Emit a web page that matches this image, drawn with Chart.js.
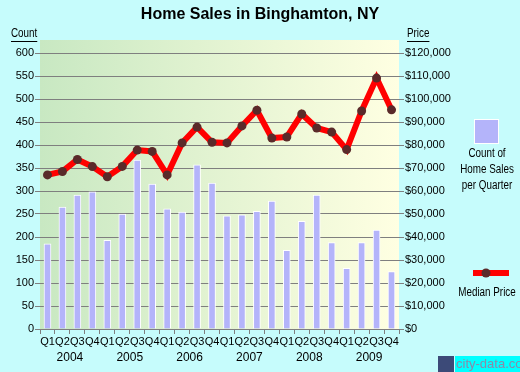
<!DOCTYPE html>
<html>
<head>
<meta charset="utf-8">
<script src="https://cdn.jsdelivr.net/npm/chart.js@4/dist/chart.umd.min.js"></script>
<style>
  html, body { margin: 0; padding: 0; background: #c6fcfc; }
  #wrap { width: 520px; height: 372px; }
</style>
</head>
<body>
<div id="wrap"><canvas id="chartSales" width="520" height="372"></canvas></div>
<script>
const quarters = [
    "Q1", "Q2", "Q3", "Q4", "Q1", "Q2", "Q3", "Q4",
    "Q1", "Q2", "Q3", "Q4", "Q1", "Q2", "Q3", "Q4",
    "Q1", "Q2", "Q3", "Q4", "Q1", "Q2", "Q3", "Q4",
];
const years = ["2004", "2005", "2006", "2007", "2008", "2009"];
const salesCount = [
    185, 265, 291, 298, 193, 250, 367, 315,
    261, 254, 357, 317, 246, 248, 256, 278,
    171, 234, 291, 188, 132, 188, 215, 125,
];
const medianPrice = [
    67000, 68500, 73700, 70600, 66200, 70700, 77800, 77200,
    67000, 80900, 87800, 81200, 80900, 88300, 95100, 83000,
    83500, 93500, 87400, 85600, 78000, 94800, 109100, 95300,
];
const countTicks = [0, 50, 100, 150, 200, 250, 300, 350, 400, 450, 500, 550, 600];
const priceTicks = [0, 10000, 20000, 30000, 40000, 50000, 60000, 70000, 80000, 90000, 100000, 110000, 120000];

const FONT = "'Liberation Sans', Arial, sans-serif";
const BAR_COLOR = "#b4b4fa";
const LINE_COLOR = "#ff0000";
const DOT_COLOR = "#5a2a2a";
const GRID_COLOR = "#7f7f7f";

// no narrow font installed, so squeeze the regular one
function narrowText(ctx, text, x, y, align) {
    ctx.save();
    ctx.font = "12px " + FONT;
    ctx.textAlign = align;
    ctx.translate(x, y);
    ctx.scale(0.82, 1);
    ctx.fillText(text, 0, 0);
    let w = ctx.measureText(text).width * 0.82;
    ctx.restore();
    return w;
}

const decorations = {
    id: "decorations",
    beforeDraw(chart) {
        const { ctx, chartArea } = chart;
        ctx.save();
        ctx.fillStyle = "#c6fcfc";
        ctx.fillRect(0, 0, chart.width, chart.height);
        let grad = ctx.createLinearGradient(chartArea.left, 0, chartArea.right, 0);
        grad.addColorStop(0, "#c8e8c2");
        grad.addColorStop(1, "#ffffe2");
        ctx.fillStyle = grad;
        ctx.fillRect(chartArea.left, chartArea.top - 13, chartArea.right - chartArea.left, chartArea.bottom - chartArea.top + 13);
        ctx.restore();
    },
    afterDraw(chart) {
        const { ctx } = chart;
        const x = chart.scales.x;
        ctx.save();
        ctx.fillStyle = "#000";
        ctx.textBaseline = "middle";

        // title
        ctx.font = "bold 16px " + FONT;
        ctx.textAlign = "center";
        ctx.fillText("Home Sales in Binghamton, NY", 260, 15);

        // axis captions
        let w1 = narrowText(ctx, "Count", 11, 34, "left");
        let w2 = narrowText(ctx, "Price", 407, 34, "left");
        ctx.fillRect(11, 41, w1, 1);
        ctx.fillRect(407, 41, w2, 1);

        // years under quarters
        ctx.font = "12px " + FONT;
        ctx.textAlign = "center";
        years.forEach((yr, i) => {
            let cx = (x.getPixelForValue(i * 4 + 1) + x.getPixelForValue(i * 4 + 2)) / 2;
            ctx.fillText(yr, cx, 358);
        });

        // legend: bars
        ctx.fillStyle = BAR_COLOR;
        ctx.fillRect(474, 119, 25, 25);
        ctx.strokeStyle = "#ffffff";
        ctx.lineWidth = 1;
        ctx.strokeRect(474.5, 119.5, 24, 24);
        ctx.fillStyle = "#000";
        narrowText(ctx, "Count of", 487, 154, "center");
        narrowText(ctx, "Home Sales", 487, 170, "center");
        narrowText(ctx, "per Quarter", 487, 186, "center");

        // legend: line
        ctx.fillStyle = LINE_COLOR;
        ctx.fillRect(473, 270, 36, 6);
        ctx.fillStyle = DOT_COLOR;
        ctx.beginPath();
        ctx.arc(486, 273, 4.5, 0, Math.PI * 2);
        ctx.fill();
        ctx.fillStyle = "#000";
        narrowText(ctx, "Median Price", 487, 293, "center");

        // watermark
        ctx.fillStyle = "#00ffff";
        ctx.fillRect(455, 356, 65, 16);
        ctx.fillStyle = "#3c4a78";
        ctx.fillRect(438, 356, 16, 16);
        ctx.fillStyle = "#8a8aa8";
        ctx.font = "13px " + FONT;
        ctx.textAlign = "left";
        ctx.fillText("city-data.com", 456, 364);
        ctx.restore();
    },
};

let chartContainer = document.getElementById("chartSales");
let chart = new Chart(chartContainer, {
    type: "bar",
    data: {
        labels: quarters,
        datasets: [
            {
                type: "line",
                label: "Median Price",
                data: medianPrice,
                yAxisID: "y1",
                borderColor: LINE_COLOR,
                borderWidth: 6,
                pointRadius: 4.5,
                pointBackgroundColor: DOT_COLOR,
                pointBorderWidth: 0,
                tension: 0,
                order: 0,
            },
            {
                label: "Count of Home Sales per Quarter",
                data: salesCount,
                yAxisID: "y",
                backgroundColor: BAR_COLOR,
                borderColor: "#ffffff",
                borderWidth: 1,
                barThickness: 7,
                order: 1,
            },
        ],
    },
    options: {
        responsive: false,
        animation: false,
        layout: { padding: { top: 53, left: 0, right: 0, bottom: 0 } },
        plugins: {
            legend: { display: false },
            tooltip: { enabled: false },
        },
        scales: {
            x: {
                afterFit(scale) { scale.height = 43; },
                border: { display: false },
                grid: {
                    offset: true,
                    drawOnChartArea: false,
                    color: GRID_COLOR,
                    tickLength: 5,
                },
                ticks: {
                    autoSkip: false,
                    maxRotation: 0,
                    padding: 1,
                    color: "#000",
                    font: { family: FONT, size: 11 },
                },
            },
            y: {
                position: "left",
                min: 0,
                max: 600,
                afterFit(scale) { scale.width = 40; },
                afterBuildTicks(scale) { scale.ticks = countTicks.map((v) => ({ value: v })); },
                border: { display: false },
                grid: { color: GRID_COLOR, tickLength: 5 },
                ticks: {
                    padding: 1,
                    color: "#000",
                    font: { family: FONT, size: 11 },
                },
            },
            y1: {
                position: "right",
                min: 0,
                max: 120000,
                afterFit(scale) { scale.width = 121; },
                afterBuildTicks(scale) { scale.ticks = priceTicks.map((v) => ({ value: v })); },
                border: { display: false },
                grid: { drawOnChartArea: false, color: GRID_COLOR, tickLength: 5 },
                ticks: {
                    padding: 1,
                    color: "#000",
                    font: { family: FONT, size: 11 },
                    callback: (v) => "$" + v.toLocaleString("en-US"),
                },
            },
        },
    },
    plugins: [decorations],
});
</script>
</body>
</html>
